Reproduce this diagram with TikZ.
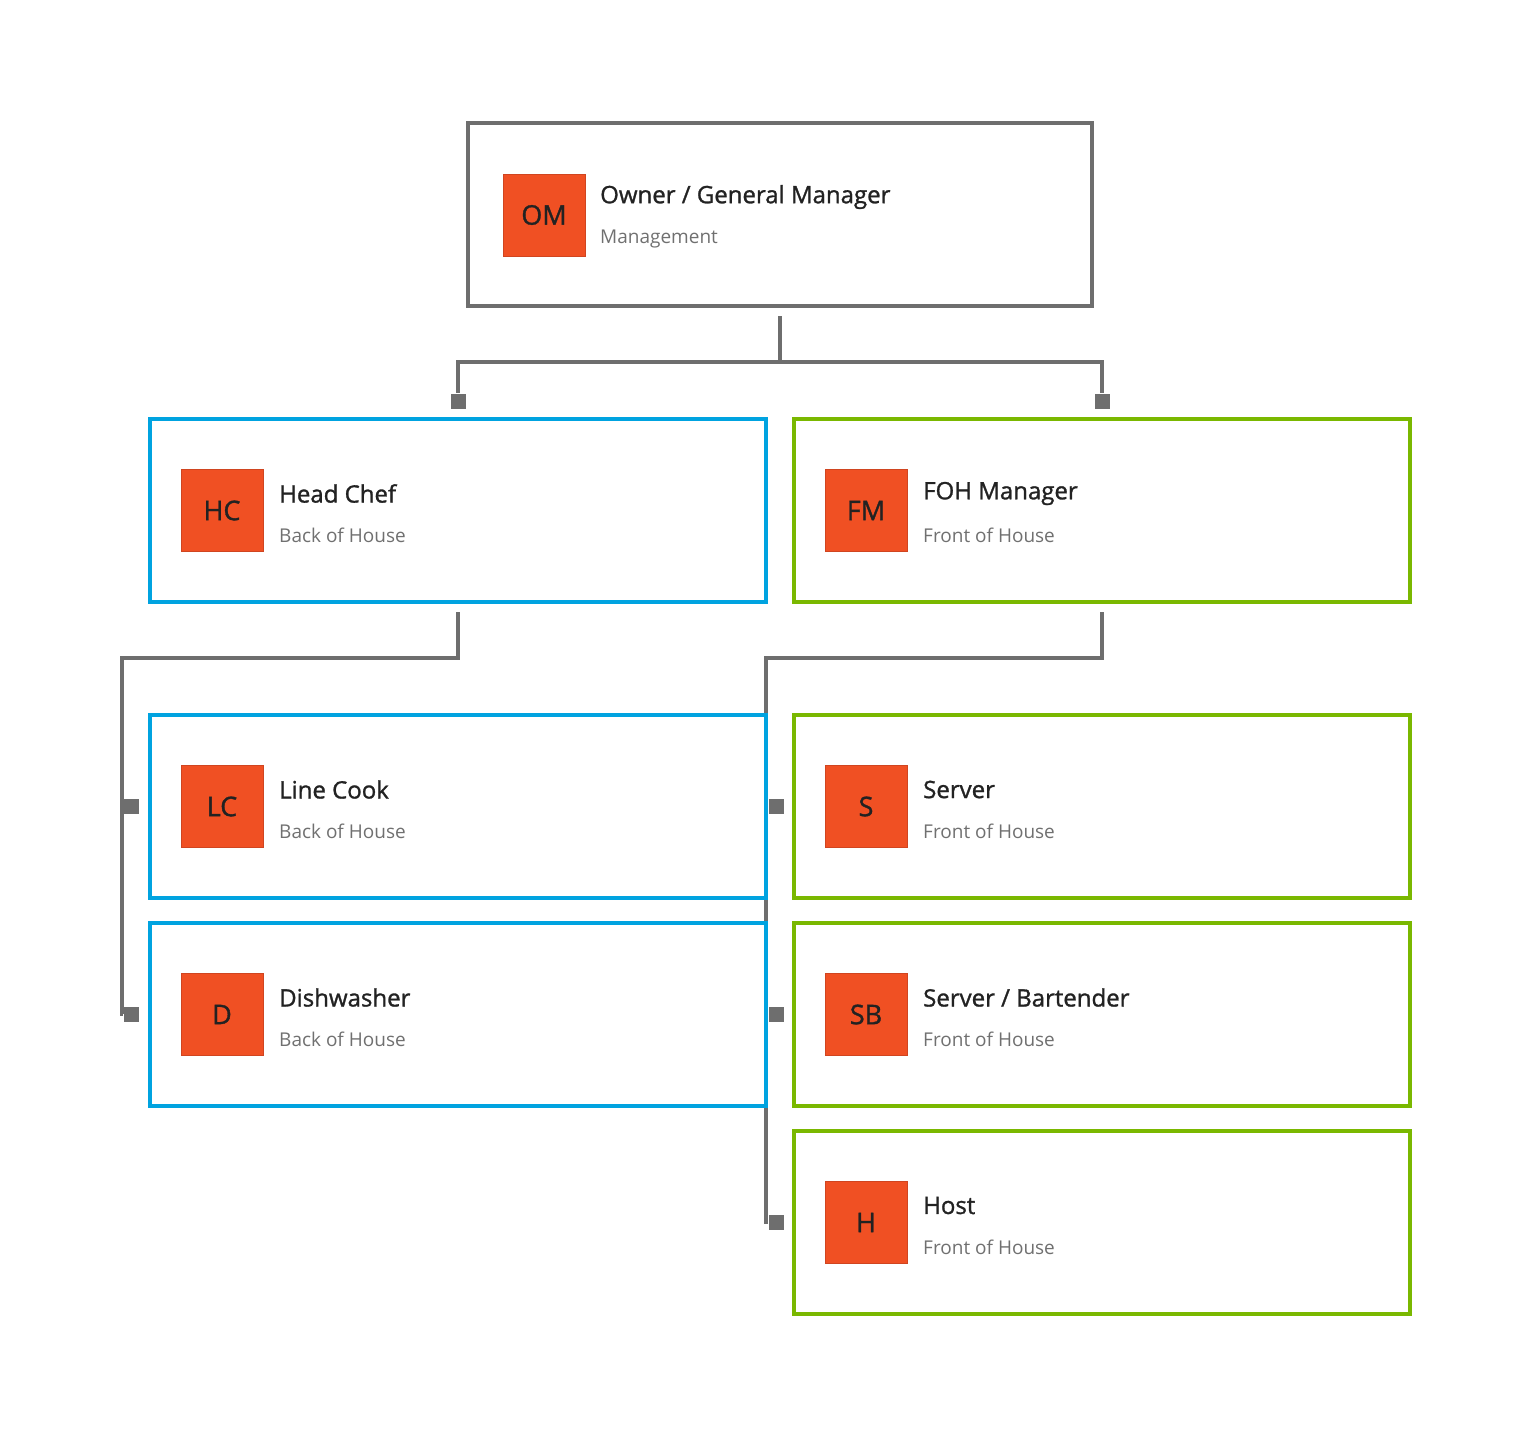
\documentclass[tikz,border=0pt]{standalone}
\usepackage{fontspec}
\setmainfont{Open Sans}
\newfontfamily\semib[FakeBold=1.2]{Open Sans}
\definecolor{lgray}{HTML}{6E6E6E}
\definecolor{cblue}{HTML}{00A3E0}
\definecolor{cgreen}{HTML}{7AB800}
\definecolor{corange}{HTML}{F05023}
\definecolor{cdorange}{HTML}{D04520}
\definecolor{ttl}{HTML}{222222}
\definecolor{sub}{HTML}{707070}
\begin{document}
\begin{tikzpicture}[x=1pt,y=-1pt,
 box/.style={draw=#1,line width=4pt,minimum width=616pt,minimum height=183pt,inner sep=0pt},
 badge/.style={fill=corange,draw=cdorange,line width=1pt,minimum size=82pt,inner sep=0pt,font=\semib\fontsize{27}{27}\selectfont,text=ttl},
 title/.style={anchor=west,font=\semib\fontsize{24}{24}\selectfont,text=ttl,inner sep=0pt},
 subt/.style={anchor=west,font=\fontsize{19}{19}\selectfont,text=sub,inner sep=0pt},
 tip/.style={fill=lgray,minimum size=15pt,inner sep=0pt},
 conn/.style={draw=lgray,line width=3.5pt}]
\useasboundingbox (0,0) rectangle (1534,1438);
\node[box=lgray,minimum width=624pt] (om) at (780,214.5) {};
\node[badge] at (544,215) {OM};
\node[title] at (600,197) {Owner / General Manager};
\node[subt] at (600,239) {Management};
\foreach \n/\cx/\cy/\col/\ab/\t/\s in {
 hc/458/510.5/cblue/HC/{Head Chef}/{Back of House},
 fm/1102/510.5/cgreen/FM/{FOH Manager}/{Front of House},
 lc/458/806.5/cblue/LC/{Line Cook}/{Back of House},
 dw/458/1014.5/cblue/D/{Dishwasher}/{Back of House},
 sv/1102/806.5/cgreen/S/{Server}/{Front of House},
 sb/1102/1014.5/cgreen/SB/{Server / Bartender}/{Front of House},
 ho/1102/1222.5/cgreen/H/{Host}/{Front of House}}{
 \node[box=\col] (\n) at (\cx,\cy) {};
 \node[badge] at (\cx-236,\cy) {\ab};
 \node[title] at (\cx-179,\cy-17) {\t};
 \node[subt] at (\cx-179,\cy+25) {\s};
}
% tips
\node[tip] (t1) at (458,401) {};
\node[tip] (t2) at (1102,401) {};
\node[tip] (t3) at (131,806) {};
\node[tip] (t4) at (131,1014) {};
\node[tip] (t5) at (776,806) {};
\node[tip] (t6) at (776,1014) {};
\node[tip] (t7) at (776,1222) {};
\draw[conn] (780,316) -- (780,362) -| (t1);
\draw[conn] (780,362) -| (t2);
\draw[conn] (458,612) -- (458,658) -- (122,658) |- (t4);
\draw[conn] (122,806) -- (t3);
\draw[conn] (1102,612) -- (1102,658) -- (766,658) |- (t7);
\draw[conn] (766,806) -- (t5);
\draw[conn] (766,1014) -- (t6);
\foreach \n in {lc,dw}{\node[box=cblue] at (\n) {};}
\end{tikzpicture}
\end{document}
